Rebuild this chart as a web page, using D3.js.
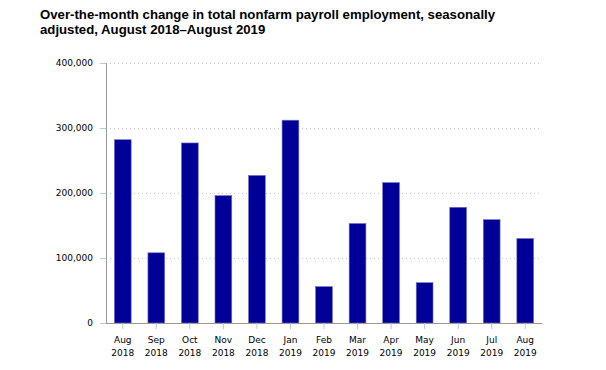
<!DOCTYPE html>
<meta charset="utf-8">
<script src="https://d3js.org/d3.v7.min.js"></script>
<style>
  body { margin: 0; background: #fff; }
  .title { font-family: "Liberation Sans", Arial, sans-serif; font-weight: bold; font-size: 13.2px; fill: #000; }
  .axis text { font-family: "DejaVu Sans", Verdana, sans-serif; font-size: 9px; fill: #000; }
</style>
<div id="my_dataviz"></div>
<script>
// data, in jobs
var months = ["Aug", "Sep", "Oct", "Nov", "Dec", "Jan", "Feb", "Mar", "Apr", "May", "Jun", "Jul", "Aug"];
var years = ["2018", "2018", "2018", "2018", "2018", "2019", "2019", "2019", "2019", "2019", "2019", "2019", "2019"];
var change = [282000, 108000, 277000, 196000, 227000, 312000, 56000, 153000, 216000, 62000, 178000, 159000, 130000];
var yTicks = [0, 100000, 200000, 300000, 400000];

var W = 606, H = 370;
var margin = {top: 63, right: 64, bottom: 47, left: 106},
    width = W - margin.left - margin.right,
    height = H - margin.top - margin.bottom;

var svg = d3.select("#my_dataviz")
  .append("svg")
    .attr("width", W)
    .attr("height", H);

// title
var title = svg.append("text").attr("class", "title").attr("x", 40).attr("y", 18.5);
title.append("tspan").attr("x", 40).text("Over-the-month change in total nonfarm payroll employment, seasonally");
title.append("tspan").attr("x", 40).attr("dy", 15.5).text("adjusted, August 2018\u2013August 2019");

var g = svg.append("g")
    .attr("transform", "translate(" + margin.left + "," + margin.top + ")");

var idx = d3.range(change.length);
var x = d3.scaleBand()
  .domain(idx)
  .range([0, width])
  .paddingInner(0.5)
  .paddingOuter(0.25);

var y = d3.scaleLinear()
  .domain([0, 400000])
  .range([height, 0]);

// gridlines
g.selectAll(".grid")
  .data(yTicks.filter(function(d) { return d > 0; }))
  .enter().append("line")
    .attr("x1", 0)
    .attr("x2", width)
    .attr("y1", function(d) { return Math.round(y(d)) + 0.5; })
    .attr("y2", function(d) { return Math.round(y(d)) + 0.5; })
    .attr("stroke", "#c8c8c8")
    .attr("stroke-dasharray", "1,3");

// bars
g.selectAll(".bar")
  .data(change)
  .enter().append("rect")
    .attr("x", function(d, i) { return x(i); })
    .attr("y", function(d) { return y(d); })
    .attr("width", x.bandwidth())
    .attr("height", function(d) { return height - y(d); })
    .attr("fill", "#000099")
    .attr("stroke", "#6f6fc8")
    .attr("stroke-width", 0.6);

// y axis
var yAxis = g.append("g")
  .attr("class", "axis")
  .call(d3.axisLeft(y).tickValues(yTicks).tickSize(6).tickPadding(7).tickFormat(d3.format(",")));
yAxis.select(".domain").attr("stroke", "#999").attr("d", "M0.5,0V" + height);
yAxis.selectAll(".tick line").attr("stroke", "#b7c9dc");

// x axis
var xAxis = g.append("g")
  .attr("class", "axis")
  .attr("transform", "translate(0," + height + ")")
  .call(d3.axisBottom(x).tickSize(6).tickPadding(8).tickFormat(""));
xAxis.select(".domain").attr("stroke", "#999").attr("d", "M0,0.5H" + width);
xAxis.selectAll(".tick line").attr("stroke", "#b7c9dc");
xAxis.selectAll(".tick text").each(function(d) {
  var t = d3.select(this).text(null);
  t.append("tspan").attr("x", 0).attr("dy", "0.71em").text(months[d]);
  t.append("tspan").attr("x", 0).attr("dy", "1.45em").text(years[d]);
});
</script>
